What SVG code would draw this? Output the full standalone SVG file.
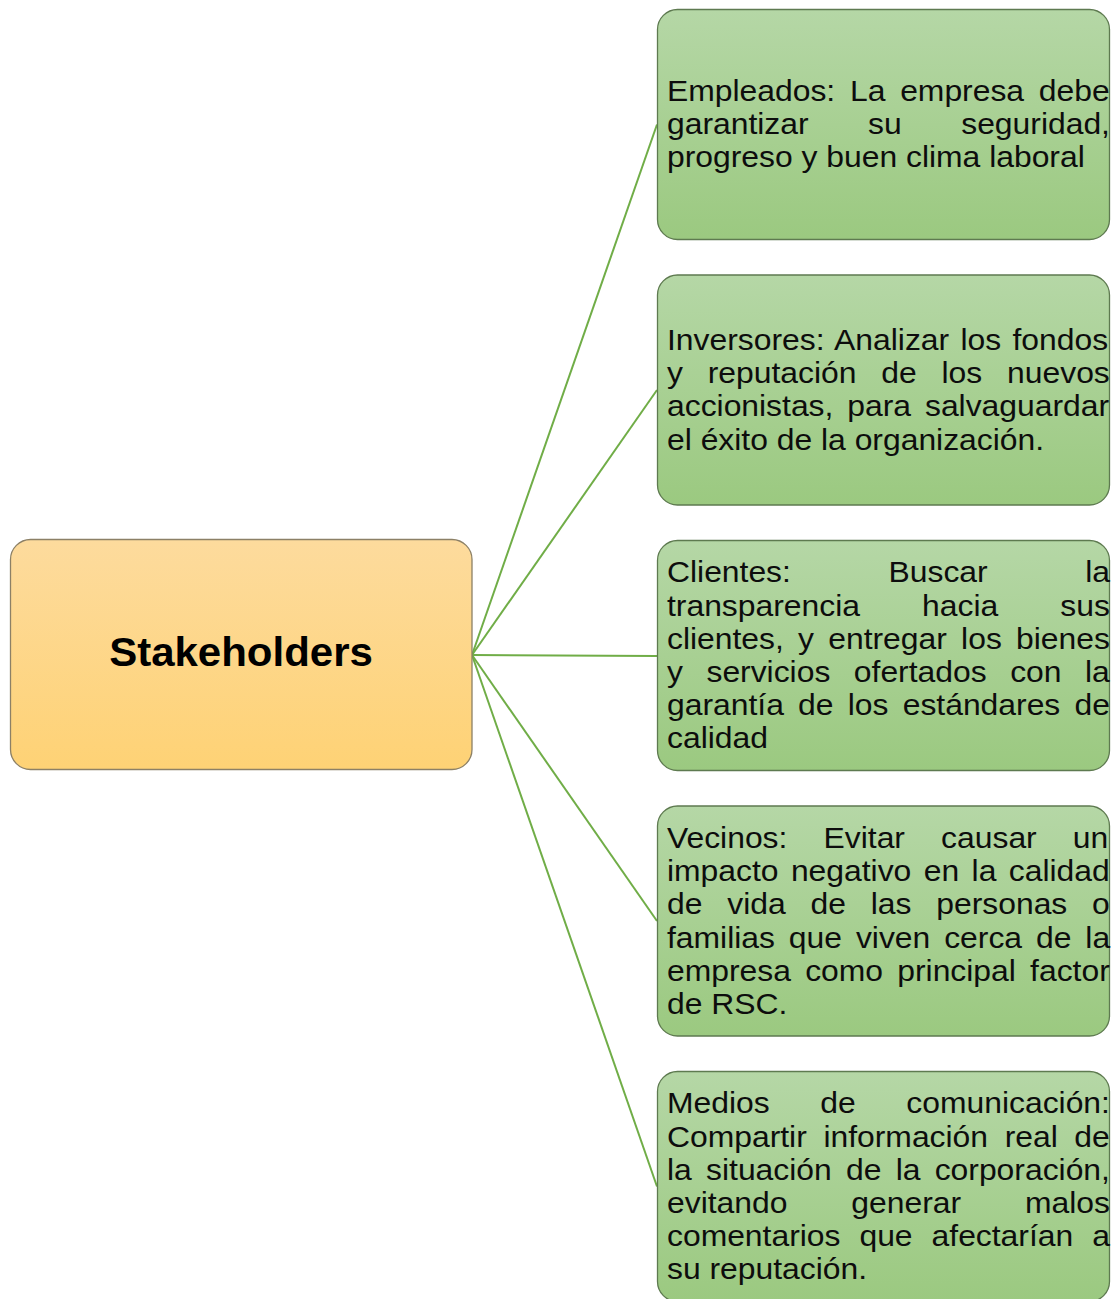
<svg xmlns="http://www.w3.org/2000/svg" width="1112" height="1299" viewBox="0 0 1112 1299">
<defs>
<linearGradient id="gGreen" x1="0" y1="0" x2="0" y2="1">
<stop offset="0" stop-color="#b5d7a6"/>
<stop offset="1" stop-color="#9bc980"/>
</linearGradient>
<linearGradient id="gOrange" x1="0" y1="0" x2="0" y2="1">
<stop offset="0" stop-color="#fddb9d"/>
<stop offset="1" stop-color="#fed275"/>
</linearGradient>
<style>
.leaf{fill:url(#gGreen);stroke:#5e7a50;stroke-width:1.3}
.root{fill:url(#gOrange);stroke:#8c8066;stroke-width:1.3}
.t{font-family:"Liberation Sans",Arial,sans-serif;font-size:29.5px;fill:#0d0d0d}
.h{font-family:"Liberation Sans",Arial,sans-serif;font-size:40px;font-weight:bold;fill:#000}
.con{stroke:#70ad47;stroke-width:2;fill:none}
</style>
</defs>
<rect width="1112" height="1299" fill="#fff"/>
<g id="connectors">
<line class="con" x1="472" y1="655" x2="657" y2="124.5"/>
<line class="con" x1="472" y1="655" x2="657" y2="390"/>
<line class="con" x1="472" y1="655" x2="657" y2="656"/>
<line class="con" x1="472" y1="655" x2="657" y2="921"/>
<line class="con" x1="472" y1="655" x2="657" y2="1186.5"/>
</g>
<g id="stakeholders">
<rect class="root" x="10.5" y="539.5" width="461.5" height="230" rx="20"/>
<text class="h" text-anchor="middle" transform="translate(241,666) scale(1.05,1)">Stakeholders</text>
</g>
<g id="empleados">
<rect class="leaf" x="657.5" y="9.5" width="452" height="230" rx="20"/>
<g transform="translate(667,0) scale(1.08,1)">
<text class="t" y="101" word-spacing="5.5">Empleados: La empresa debe</text>
<text class="t" y="134.2" word-spacing="46.9">garantizar su seguridad,</text>
<text class="t" y="167.4">progreso y buen clima laboral</text>
</g>
</g>
<g id="inversores">
<rect class="leaf" x="657.5" y="275" width="452" height="230" rx="20"/>
<g transform="translate(667,0) scale(1.08,1)">
<text class="t" y="350" word-spacing="2.3">Inversores: Analizar los fondos</text>
<text class="t" y="383.2" word-spacing="14.8">y reputación de los nuevos</text>
<text class="t" y="416.4" word-spacing="4.7">accionistas, para salvaguardar</text>
<text class="t" y="449.6">el éxito de la organización.</text>
</g>
</g>
<g id="clientes">
<rect class="leaf" x="657.5" y="540.5" width="452" height="230" rx="20"/>
<g transform="translate(667,0) scale(1.08,1)">
<text class="t" y="582.5" word-spacing="82.2">Clientes: Buscar la</text>
<text class="t" y="615.7" word-spacing="49.3">transparencia hacia sus</text>
<text class="t" y="648.9" word-spacing="5">clientes, y entregar los bienes</text>
<text class="t" y="682.1" word-spacing="13.6">y servicios ofertados con la</text>
<text class="t" y="715.3" word-spacing="5">garantía de los estándares de</text>
<text class="t" y="748.5">calidad</text>
</g>
</g>
<g id="vecinos">
<rect class="leaf" x="657.5" y="806" width="452" height="230" rx="20"/>
<g transform="translate(667,0) scale(1.08,1)">
<text class="t" y="848" word-spacing="25.3">Vecinos: Evitar causar un</text>
<text class="t" y="881.2" word-spacing="3.3">impacto negativo en la calidad</text>
<text class="t" y="914.4" word-spacing="14.8">de vida de las personas o</text>
<text class="t" y="947.6" word-spacing="4.7">familias que viven cerca de la</text>
<text class="t" y="980.8" word-spacing="5">empresa como principal factor</text>
<text class="t" y="1014">de RSC.</text>
</g>
</g>
<g id="medios">
<rect class="leaf" x="657.5" y="1071.5" width="452" height="230" rx="20"/>
<g transform="translate(667,0) scale(1.08,1)">
<text class="t" y="1113.5" word-spacing="38.7">Medios de comunicación:</text>
<text class="t" y="1146.7" word-spacing="7.2">Compartir información real de</text>
<text class="t" y="1179.9" word-spacing="5">la situación de la corporación,</text>
<text class="t" y="1213.1" word-spacing="51">evitando generar malos</text>
<text class="t" y="1246.3" word-spacing="9.4">comentarios que afectarían a</text>
<text class="t" y="1279.5">su reputación.</text>
</g>
</g>
</svg>
